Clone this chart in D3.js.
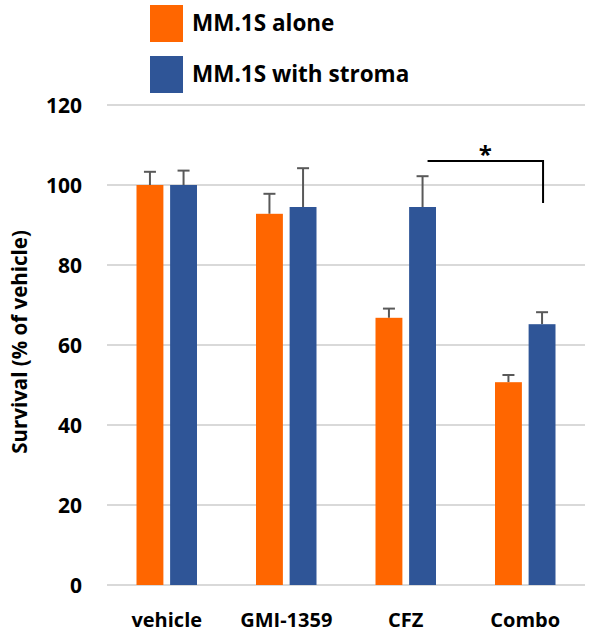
<!DOCTYPE html>
<html>
<head>
<meta charset="utf-8">
<script src="https://cdn.jsdelivr.net/npm/d3@7"></script>
<style>
  body { margin: 0; background: #fff; }
  text { font-family: "Open Sans", sans-serif; font-weight: bold; fill: #000; }
</style>
</head>
<body>
<svg id="chart" width="589" height="635"></svg>
<script>
const categories = ["vehicle", "GMI-1359", "CFZ", "Combo"];
const series = ["MM.1S alone", "MM.1S with stroma"];
const colors = ["#FF6600", "#2F5597"];
const alone = [100, 92.8, 66.8, 50.7];
const aloneErr = [3.3, 5.0, 2.3, 1.8];
const stroma = [100, 94.5, 94.5, 65.2];
const stromaErr = [3.6, 9.7, 7.7, 3.0];
const yTicks = [0, 20, 40, 60, 80, 100, 120];

const svg = d3.select("#chart");
const margin = {left: 107, right: 4, top: 105, bottom: 50};
const width = 589, height = 635;

const x = d3.scaleBand().domain(categories).range([margin.left, width - margin.right]).paddingInner(0).paddingOuter(0);
const x1 = d3.scaleBand().domain(series).range([29.5, 90]).paddingInner(0.2);
const y = d3.scaleLinear().domain([0, 120]).range([height - margin.bottom, margin.top]);

// gridlines
svg.append("g").selectAll("line").data(yTicks).join("line")
  .attr("x1", margin.left).attr("x2", width - margin.right)
  .attr("y1", d => y(d)).attr("y2", d => y(d))
  .attr("stroke", "#D9D9D9").attr("stroke-width", 2);

// y tick labels
svg.append("g").selectAll("text").data(yTicks).join("text")
  .attr("x", 82).attr("y", d => y(d)).attr("dy", "0.36em")
  .attr("text-anchor", "end").attr("font-size", 21)
  .text(d => d);

// y title
svg.append("text")
  .attr("transform", "translate(27,342) rotate(-90)")
  .attr("text-anchor", "middle").attr("font-size", 20.5)
  .text("Survival (% of vehicle)");

// x labels
svg.append("g").selectAll("text").data(categories).join("text")
  .attr("x", d => x(d) + x.bandwidth() / 2).attr("y", 627)
  .attr("text-anchor", "middle").attr("font-size", 20)
  .text(d => d);

const data = categories.map((c, i) => [
  {cat: c, s: series[0], v: alone[i], e: aloneErr[i], color: colors[0]},
  {cat: c, s: series[1], v: stroma[i], e: stromaErr[i], color: colors[1]}
]).flat();

const bx = d => x(d.cat) + x1(d.s);

// error bars (drawn behind bars)
const eb = svg.append("g").attr("stroke", "#595959").attr("stroke-width", 2);
eb.selectAll(".v").data(data).join("line")
  .attr("x1", d => bx(d) + x1.bandwidth() / 2).attr("x2", d => bx(d) + x1.bandwidth() / 2)
  .attr("y1", d => y(d.v)).attr("y2", d => y(d.v + d.e));
eb.selectAll(".h").data(data).join("line")
  .attr("x1", d => bx(d) + x1.bandwidth() / 2 - 6).attr("x2", d => bx(d) + x1.bandwidth() / 2 + 6)
  .attr("y1", d => y(d.v + d.e)).attr("y2", d => y(d.v + d.e));

// bars
svg.append("g").selectAll("rect").data(data).join("rect")
  .attr("x", bx).attr("width", x1.bandwidth())
  .attr("y", d => y(d.v)).attr("height", d => y(0) - y(d.v))
  .attr("fill", d => d.color);

// significance bracket CFZ stroma vs Combo stroma
const bx1 = x("CFZ") + x1(series[1]) + x1.bandwidth() / 2 + 5;
const bx2 = x("Combo") + x1(series[1]) + x1.bandwidth() / 2 + 1;
const by = y(106);
svg.append("path")
  .attr("d", `M${bx1},${by}H${bx2}V${y(95.5)}`)
  .attr("fill", "none").attr("stroke", "#000").attr("stroke-width", 2);
svg.append("text")
  .attr("x", (bx1 + bx2) / 2).attr("y", by + 2)
  .attr("text-anchor", "middle").attr("font-size", 24)
  .text("*");

// legend
const lg = svg.append("g").selectAll("g").data(series).join("g")
  .attr("transform", (d, i) => `translate(150,${5 + i * 51})`);
lg.append("rect").attr("width", 33).attr("height", 37).attr("fill", (d, i) => colors[i]);
lg.append("text").attr("x", 42).attr("y", 25.7).attr("font-size", 22.5).text(d => d);
</script>
</body>
</html>
